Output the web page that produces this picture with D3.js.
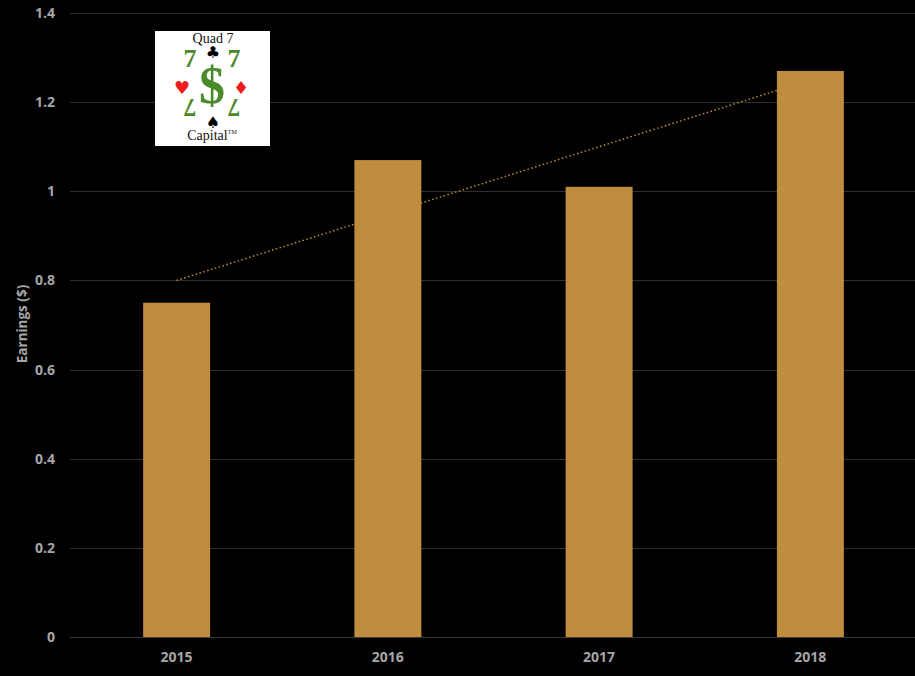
<!DOCTYPE html>
<html><head><meta charset="utf-8">
<script src="https://cdn.jsdelivr.net/npm/d3@7"></script>
<style>html,body{margin:0;padding:0;background:#000;}svg{display:block;}</style>
</head><body>
<script>
const categories = ["2015", "2016", "2017", "2018"];
const earnings = [0.75, 1.07, 1.01, 1.27];
const trendValues = [0.80, 1.25]; // linear trend at first and last category
const yTicks = [0, 0.2, 0.4, 0.6, 0.8, 1, 1.2, 1.4];
const yLabel = "Earnings ($)";

const W = 915, H = 676;
const m = {left: 70, right: 0, top: 13, bottom: 39};
const svg = d3.select("body").append("svg").attr("width", W).attr("height", H)
  .style("background", "#000");

const x = d3.scaleBand().domain(categories).range([m.left + 1, W - m.right + 1])
  .paddingInner(0.683).paddingOuter(0.3415);
const y = d3.scaleLinear().domain([0, 1.4]).range([H - m.bottom, m.top]);

// gridlines
svg.append("g").selectAll("line").data(yTicks).join("line")
  .attr("x1", m.left).attr("x2", W - m.right)
  .attr("y1", d => Math.round(y(d)) + 0.5).attr("y2", d => Math.round(y(d)) + 0.5)
  .attr("stroke", d => d === 0 ? "#3a3a3a" : "#2e2e2e").attr("stroke-width", 1);

const sans = "'Open Sans', 'DejaVu Sans', sans-serif";
// y axis labels
const yAxis = d3.axisLeft(y).tickValues(yTicks).tickSize(0).tickPadding(15)
  .tickFormat(d => d3.format("")(+d.toFixed(1)));
const gy = svg.append("g").attr("transform", `translate(${m.left},0)`).call(yAxis);
gy.select(".domain").remove();
gy.selectAll("text").attr("fill", "#a6a6a6").style("font-family", sans)
  .style("font-size", "14px").style("font-weight", "bold");

// x axis labels
const xAxis = d3.axisBottom(x).tickSize(0).tickPadding(15);
const gx = svg.append("g").attr("transform", `translate(0,${H - m.bottom})`).call(xAxis);
gx.select(".domain").remove();
gx.selectAll("text").attr("fill", "#a6a6a6").style("font-family", sans)
  .style("font-size", "14px").style("font-weight", "bold");

// y label
svg.append("text").attr("transform", `translate(22,324) rotate(-90)`)
  .attr("text-anchor", "middle").attr("dominant-baseline", "central").attr("fill", "#a6a6a6")
  .style("font-family", sans)
  .style("font-size", "13.5px").style("font-weight", "bold").text(yLabel);

// trendline (behind bars)
const first = categories[0], last = categories[categories.length - 1];
svg.append("line")
  .attr("x1", x(first) + x.bandwidth() / 2).attr("y1", y(trendValues[0]))
  .attr("x2", x(last) + x.bandwidth() / 2).attr("y2", y(trendValues[1]))
  .attr("stroke", "#c08a3a").attr("stroke-width", 1.5).attr("stroke-dasharray", "1.5,2.5");

// bars
svg.append("g").selectAll("rect").data(categories).join("rect")
  .attr("x", d => x(d)).attr("width", x.bandwidth())
  .attr("y", (d, i) => y(earnings[i])).attr("height", (d, i) => y(0) - y(earnings[i]))
  .attr("fill", "#be8e3e");

// logo
const logo = svg.append("g").attr("transform", "translate(155,31)");
logo.append("rect").attr("width", 115).attr("height", 115).attr("fill", "#fff");
const serif = "'Liberation Serif', 'DejaVu Serif', serif";
logo.append("text").attr("x", 58).attr("y", 12).attr("text-anchor", "middle")
  .style("font-family", serif).style("font-size", "14px").attr("fill", "#111").text("Quad 7");
logo.append("text").attr("x", 57).attr("y", 109).attr("text-anchor", "middle")
  .style("font-family", serif).style("font-size", "14px").attr("fill", "#111")
  .text("Capital").append("tspan").attr("font-size", "6px").attr("dy", "-6").text("TM");
const sym = (t, cx, cy, size, color) => logo.append("text")
  .attr("transform", `translate(${cx},${cy})`)
  .attr("text-anchor", "middle").attr("dominant-baseline", "central")
  .style("font-family", "'DejaVu Sans', sans-serif").style("font-size", size + "px")
  .attr("fill", color).text(t);
const green = "#4b8a2b";
sym("♣", 58, 21, 16, "#000");
sym("♠", 58, 91, 16, "#000");
sym("♥", 27, 56, 18, "#ee1c1c");
sym("♦", 86, 56, 18, "#ee1c1c");
logo.append("text").attr("x", 57).attr("y", 72).attr("text-anchor", "middle")
  .style("font-family", serif)
  .style("font-size", "52px").style("font-weight", "bold").attr("fill", green).text("$");
[35, 79].forEach(cx => {
  logo.append("text").attr("x", cx).attr("y", 36).attr("text-anchor", "middle")
    .style("font-family", serif).style("font-weight", "bold")
    .style("font-size", "26px").attr("fill", green).text("7");
  logo.append("text").attr("transform", `translate(${cx},68) rotate(180)`).attr("text-anchor", "middle")
    .style("font-family", serif).style("font-weight", "bold")
    .style("font-size", "26px").attr("fill", green).text("7");
});
</script>
</body></html>
